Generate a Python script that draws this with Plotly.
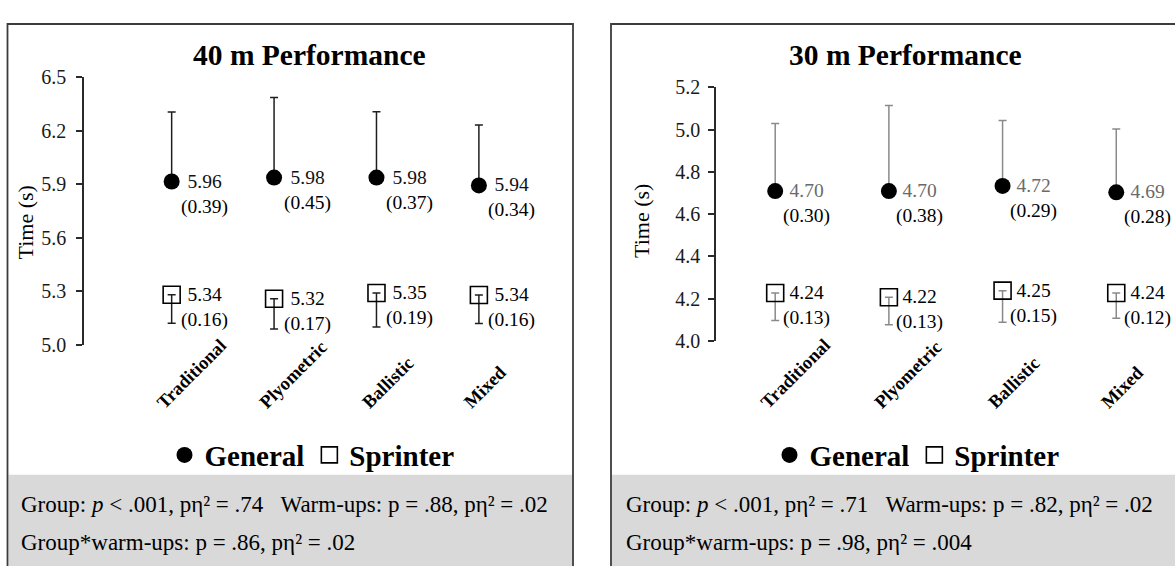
import plotly.graph_objects as go

W, H = 1175, 566
SERIF = "Liberation Serif"

categories = ["Traditional", "Plyometric", "Ballistic", "Mixed"]

# ---- 40 m panel ----
gen40_pos = [5.915, 5.937, 5.937, 5.893]
gen40_err = [0.39, 0.45, 0.37, 0.34]
gen40_mean_lbl = ["5.96", "5.98", "5.98", "5.94"]
gen40_sd_lbl = ["0.39", "0.45", "0.37", "0.34"]
spr40_pos = [5.279, 5.257, 5.289, 5.278]
spr40_err = [0.16, 0.17, 0.19, 0.16]
spr40_mean_lbl = ["5.34", "5.32", "5.35", "5.34"]
spr40_sd_lbl = ["0.16", "0.17", "0.19", "0.16"]
y40_ticks = [5.0, 5.3, 5.6, 5.9, 6.2, 6.5]
title40 = "40 m Performance"
stats40 = ["Group: <i>p</i> &lt; .001, pη² = .74\u00a0\u00a0\u00a0Warm-ups: p = .88, pη² = .02",
           "Group*warm-ups: p = .86, pη² = .02"]

# ---- 30 m panel ----
gen30_pos = [4.709, 4.709, 4.733, 4.703]
gen30_err = [0.32, 0.405, 0.31, 0.30]
gen30_mean_lbl = ["4.70", "4.70", "4.72", "4.69"]
gen30_sd_lbl = ["0.30", "0.38", "0.29", "0.28"]
spr30_pos = [4.227, 4.207, 4.238, 4.227]
spr30_err = [0.13, 0.13, 0.15, 0.12]
spr30_mean_lbl = ["4.24", "4.22", "4.25", "4.24"]
spr30_sd_lbl = ["0.13", "0.13", "0.15", "0.12"]
y30_ticks = [4.0, 4.2, 4.4, 4.6, 4.8, 5.0, 5.2]
title30 = "30 m Performance"
stats30 = ["Group: <i>p</i> &lt; .001, pη² = .71\u00a0\u00a0\u00a0Warm-ups: p = .82, pη² = .02",
           "Group*warm-ups: p = .98, pη² = .004"]


def px(x):
    return x / W


def py(y):
    return 1 - y / H


xs = list(range(len(categories)))
fig = go.Figure()

panels = [
    dict(xa="x", ya="y", legend="legend", gen=gen40_pos, gerr=gen40_err, spr=spr40_pos, serr=spr40_err,
         gm=gen40_mean_lbl, gs=gen40_sd_lbl, sm=spr40_mean_lbl, ss=spr40_sd_lbl,
         barcol="#1e1e1e", gen_lbl_col="#111111", xshift=33),
    dict(xa="x2", ya="y2", legend="legend2", gen=gen30_pos, gerr=gen30_err, spr=spr30_pos, serr=spr30_err,
         gm=gen30_mean_lbl, gs=gen30_sd_lbl, sm=spr30_mean_lbl, ss=spr30_sd_lbl,
         barcol="#8a8a8a", gen_lbl_col="#6a6a6a", xshift=31),
]

annotations = []
for p in panels:
    fig.add_trace(go.Scatter(
        x=xs, y=p["gen"], mode="markers", name="<b>General</b>", legend=p["legend"],
        xaxis=p["xa"], yaxis=p["ya"],
        marker=dict(symbol="circle", size=16, color="black"),
        error_y=dict(type="data", symmetric=False, array=p["gerr"], arrayminus=[0] * 4,
                     color=p["barcol"], thickness=1.5, width=4),
    ))
    fig.add_trace(go.Scatter(
        x=xs, y=p["spr"], mode="markers", name="<b>Sprinter</b>", legend=p["legend"],
        xaxis=p["xa"], yaxis=p["ya"],
        marker=dict(symbol="square-open", size=17, color="black", line=dict(width=1.6, color="black")),
        error_y=dict(type="data", symmetric=False, array=[0] * 4, arrayminus=p["serr"],
                     color=p["barcol"], thickness=1.5, width=4),
    ))
    for i in xs:
        annotations.append(dict(
            xref=p["xa"], yref=p["ya"], x=i, y=p["gen"][i], xshift=p["xshift"], yshift=-12.5,
            text=f"<span style='color:{p['gen_lbl_col']}'>{p['gm'][i]}</span><br>({p['gs'][i]})",
            showarrow=False, align="center", xanchor="center", yanchor="middle",
            font=dict(family=SERIF, size=19.5, color="black")))
        annotations.append(dict(
            xref=p["xa"], yref=p["ya"], x=i, y=p["spr"][i], xshift=p["xshift"], yshift=-12.5,
            text=f"{p['sm'][i]}<br>({p['ss'][i]})",
            showarrow=False, align="center", xanchor="center", yanchor="middle",
            font=dict(family=SERIF, size=19.5, color="black")))
        # rotated category labels
        annotations.append(dict(
            xref=p["xa"], yref="paper", x=i, y=py(419), xshift=-20,
            text=f"<b>{categories[i]}</b>", textangle=-45, showarrow=False,
            xanchor="left", yanchor="bottom", borderpad=0,
            font=dict(family=SERIF, size=18.5, color="black")))

# titles, axis titles
annotations += [
    dict(xref="paper", yref="paper", x=px(309.5), y=py(46), text=f"<b>{title40}</b>", showarrow=False,
         xanchor="center", yanchor="middle", font=dict(family=SERIF, size=29.5, color="black")),
    dict(xref="paper", yref="paper", x=px(905.7), y=py(46), text=f"<b>{title30}</b>", showarrow=False,
         xanchor="center", yanchor="middle", font=dict(family=SERIF, size=29.5, color="black")),
    dict(xref="paper", yref="paper", x=px(25), y=py(220), text="Time (s)", textangle=-90, showarrow=False,
         xanchor="center", yanchor="middle", font=dict(family=SERIF, size=22, color="black")),
    dict(xref="paper", yref="paper", x=px(641.5), y=py(219), text="Time (s)", textangle=-90, showarrow=False,
         xanchor="center", yanchor="middle", font=dict(family=SERIF, size=22, color="black")),
]
for xl, lines in [(19, stats40), (624, stats30)]:
    for ln, yy in zip(lines, [513, 553]):
        annotations.append(dict(xref="paper", yref="paper", x=px(xl), y=py(yy), text=ln, showarrow=False,
                                xanchor="left", yanchor="middle",
                                font=dict(family=SERIF, size=23, color="black")))

shapes = []
# footer bands
for x0, x1 in [(8.5, 572), (612, 1180)]:
    shapes.append(dict(type="rect", xref="paper", yref="paper", x0=px(x0), x1=px(x1), y0=-0.02, y1=py(482.5),
                       fillcolor="#d9d9d9", line=dict(width=0), layer="below"))
# panel borders
for x0, x1 in [(7.5, 573), (611, 1185)]:
    shapes.append(dict(type="rect", xref="paper", yref="paper", x0=px(x0), x1=px(x1), y0=-0.05, y1=py(13.5),
                       fillcolor="rgba(0,0,0,0)", line=dict(width=1.8, color="#3c3c3c"), layer="above"))

axis_common = dict(showgrid=False, zeroline=False)
yfont = dict(family=SERIF, size=20, color="#1a1a1a")

fig.update_layout(
    width=W, height=H, margin=dict(l=0, r=0, t=0, b=0),
    paper_bgcolor="white", plot_bgcolor="rgba(0,0,0,0)",
    showlegend=True,
    xaxis=dict(domain=[px(84), px(530.1)], range=[-0.856, 3.5], showticklabels=False, showline=False,
               ticks="", **axis_common),
    yaxis=dict(domain=[py(347), py(69)], range=[5.0, 6.5], tickvals=y40_ticks,
               ticktext=[f"{v:.1f}" for v in y40_ticks], ticks="outside", ticklen=6, tickwidth=1.5,
               tickcolor="#2a2a2a", showline=True, linecolor="#2a2a2a", linewidth=1.5,
               tickfont=yfont, ticklabelstandoff=6, anchor="x", **axis_common),
    xaxis2=dict(domain=[px(716), px(1173.1)], range=[-0.5207, 3.5], showticklabels=False, showline=False,
                ticks="", anchor="y2", **axis_common),
    yaxis2=dict(domain=[py(343.3), py(79.3)], range=[4.0, 5.2], tickvals=y30_ticks,
                ticktext=[f"{v:.1f}" for v in y30_ticks], ticks="outside", ticklen=6, tickwidth=1.5,
                tickcolor="#2a2a2a", showline=True, linecolor="#2a2a2a", linewidth=1.5,
                tickfont=yfont, ticklabelstandoff=4, anchor="x2", **axis_common),
    legend=dict(orientation="h", x=px(312), y=py(462), xanchor="center", yanchor="middle",
                bgcolor="rgba(0,0,0,0)", borderwidth=0,
                font=dict(family=SERIF, size=29, color="black"), itemwidth=30),
    legend2=dict(orientation="h", x=px(917), y=py(462), xanchor="center", yanchor="middle",
                 bgcolor="rgba(0,0,0,0)", borderwidth=0,
                 font=dict(family=SERIF, size=29, color="black"), itemwidth=30),
    annotations=annotations,
    shapes=shapes,
)

fig.write_html("out.html")
